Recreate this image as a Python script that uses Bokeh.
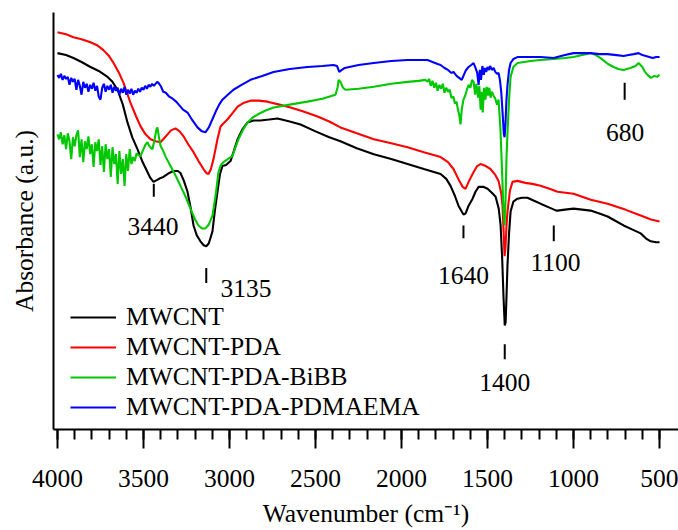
from bokeh.plotting import figure
from bokeh.models import Range1d, FixedTicker, Legend, LegendItem, Label
from bokeh.embed import file_html
from bokeh.resources import INLINE

# ---------------- data ----------------
black_wn = [4000, 3950, 3907, 3860, 3808, 3760, 3709, 3680, 3651, 3620, 3593, 3565, 3535, 3505, 3477, 3460,
            3442, 3420, 3400, 3384, 3350, 3326, 3300, 3285, 3265, 3244, 3225, 3209, 3190, 3169, 3150, 3135,
            3120, 3099, 3085, 3070, 3055, 3041, 3020, 2994, 2975, 2953, 2925, 2895, 2860, 2820, 2770, 2721,
            2650, 2587, 2500, 2420, 2355, 2260, 2161, 2060, 1965, 1870, 1773, 1740, 1715, 1690, 1669, 1650,
            1640, 1628, 1610, 1587, 1570, 1552, 1525, 1500, 1475, 1453, 1435, 1424, 1415, 1407, 1400, 1395,
            1390, 1384, 1375, 1366, 1350, 1326, 1300, 1268, 1230, 1192, 1140, 1100, 1093, 1050, 1000, 950,
            901, 850, 802, 750, 709, 660, 610, 580, 552, 520, 500]
black_abs = [380, 378, 375, 371, 366, 362, 356, 351, 343, 328, 310, 295, 283, 270, 260, 254,
             250, 252, 254, 255, 259, 261, 261, 259, 251, 240, 223, 206, 196, 190, 186, 185,
             188, 200, 221, 240, 258, 266, 267, 271, 281, 293, 303, 310, 312, 312, 313, 314,
             311, 308, 301, 295, 291, 284, 278, 273, 268, 263, 258, 253, 246, 236, 226, 220,
             217, 218, 226, 233, 240, 245, 245, 243, 239, 235, 223, 206, 173, 133, 105, 108,
             133, 166, 198, 220, 230, 233, 234, 234, 231, 228, 224, 221, 221, 222, 223, 222,
             221, 218, 215, 210, 206, 202, 198, 193, 190, 189, 189]

red_wn = [4000, 3950, 3907, 3860, 3808, 3770, 3733, 3700, 3674, 3645, 3616, 3596, 3576, 3545, 3517, 3488,
          3459, 3430, 3401, 3380, 3360, 3340, 3314, 3290, 3267, 3240, 3209, 3180, 3151, 3135, 3122, 3108,
          3093, 3070, 3052, 3030, 3012, 2980, 2953, 2915, 2878, 2830, 2779, 2710, 2645, 2570, 2488, 2420,
          2355, 2260, 2161, 2060, 1965, 1870, 1773, 1730, 1698, 1670, 1645, 1628, 1610, 1581, 1560, 1541,
          1510, 1483, 1455, 1436, 1420, 1413, 1405, 1401, 1396, 1390, 1384, 1370, 1355, 1326, 1280, 1240,
          1192, 1140, 1093, 1000, 950, 900, 802, 700, 610, 550, 500]
red_abs = [401, 399, 396, 394, 391, 388, 383, 377, 370, 361, 350, 340, 330, 317, 306, 298,
           293, 291, 290, 294, 298, 302, 304, 301, 296, 288, 280, 271, 263, 259, 258, 263,
           273, 293, 306, 310, 313, 320, 326, 330, 332, 332, 331, 328, 325, 321, 316, 311,
           305, 299, 293, 289, 285, 280, 275, 270, 263, 253, 245, 243, 250, 260, 266, 268,
           266, 263, 257, 251, 238, 226, 193, 175, 183, 205, 220, 241, 250, 251, 249, 248,
           246, 243, 240, 238, 235, 232, 228, 222, 216, 212, 210]

green_wn = [4000, 3990, 3980, 3970, 3960, 3950, 3940, 3930, 3920, 3910, 3900, 3890, 3880, 3870, 3860, 3850,
            3840, 3830, 3820, 3810, 3800, 3790, 3780, 3770, 3760, 3750, 3740, 3730, 3720, 3710, 3700, 3690,
            3680, 3670, 3660, 3650, 3640, 3630, 3620, 3610, 3600, 3590, 3580, 3570, 3560, 3550, 3540, 3530,
            3517, 3500, 3490, 3477, 3465, 3448, 3435, 3425, 3419, 3410, 3400, 3390, 3370, 3343, 3315, 3285,
            3255, 3227, 3200, 3180, 3160, 3140, 3120, 3099, 3080, 3064, 3050, 3035, 3010, 2983, 2965, 2948,
            2920, 2895, 2865, 2837, 2790, 2744, 2650, 2547, 2460, 2384, 2372, 2366, 2355, 2340, 2326, 2250,
            2161, 2060, 1965, 1900, 1860, 1849, 1840, 1830, 1820, 1810, 1800, 1790, 1780, 1770, 1760, 1750,
            1740, 1730, 1720, 1710, 1698, 1690, 1680, 1672, 1665, 1657, 1650, 1640, 1630, 1620, 1610, 1600,
            1590, 1581, 1572, 1565, 1555, 1548, 1540, 1535, 1528, 1520, 1512, 1505, 1497, 1490, 1482, 1475,
            1465, 1455, 1445, 1436, 1425, 1415, 1408, 1401, 1395, 1390, 1384, 1375, 1366, 1350, 1326, 1250,
            1192, 1116, 1050, 1000, 950, 901, 870, 843, 800, 767, 740, 709, 690, 670, 640, 622,
            600, 585, 570, 550, 530, 515, 500]
green_abs = [298, 293, 300, 288, 297, 283, 299, 291, 273, 295, 286, 297, 302, 275, 293, 270,
             291, 283, 296, 278, 288, 265, 290, 281, 293, 267, 286, 260, 288, 273, 283, 255,
             285, 268, 278, 248, 281, 258, 273, 246, 278, 261, 283, 268, 275, 271, 279, 277,
             276, 283, 287, 290, 286, 283, 293, 303, 305, 295, 286, 283, 275, 266, 257, 246,
             235, 223, 212, 206, 203, 203, 207, 216, 237, 260, 267, 270, 273, 276, 285, 293,
             303, 310, 315, 318, 322, 325, 328, 331, 334, 338, 345, 353, 351, 345, 343, 344,
             346, 349, 351, 352, 353, 351, 354, 347, 352, 345, 350, 342, 348, 344, 349, 340,
             345, 341, 343, 335, 336, 329, 331, 323, 318, 308, 323, 333, 337, 343, 348, 345,
             353, 351, 338, 349, 335, 347, 323, 341, 320, 345, 333, 346, 337, 345, 335, 341,
             337, 334, 328, 333, 303, 258, 223, 206, 233, 273, 300, 333, 356, 366, 370, 372,
             373, 374, 375, 376, 378, 380, 378, 375, 369, 366, 364, 363, 364, 365, 367, 370,
             366, 361, 358, 355, 357, 356, 358]

blue_wn = [4000, 3990, 3980, 3970, 3960, 3950, 3940, 3930, 3920, 3910, 3900, 3890, 3880, 3870, 3860, 3850,
           3840, 3830, 3820, 3810, 3800, 3790, 3780, 3770, 3760, 3750, 3740, 3730, 3720, 3710, 3700, 3690,
           3680, 3670, 3660, 3650, 3640, 3630, 3620, 3610, 3600, 3590, 3580, 3570, 3560, 3550, 3540, 3530,
           3520, 3510, 3500, 3490, 3480, 3470, 3460, 3450, 3440, 3430, 3420, 3413, 3400, 3385, 3370, 3350,
           3330, 3310, 3290, 3270, 3244, 3215, 3186, 3160, 3140, 3120, 3100, 3080, 3060, 3041, 3010, 2977,
           2930, 2878, 2810, 2744, 2650, 2547, 2460, 2395, 2375, 2362, 2355, 2330, 2250, 2161, 2060, 1965,
           1900, 1849, 1820, 1790, 1773, 1750, 1730, 1710, 1698, 1680, 1665, 1650, 1640, 1625, 1610, 1595,
           1581, 1570, 1560, 1552, 1545, 1538, 1530, 1522, 1515, 1508, 1500, 1492, 1485, 1475, 1465, 1455,
           1445, 1436, 1428, 1420, 1412, 1405, 1401, 1396, 1390, 1384, 1375, 1366, 1350, 1326, 1250, 1192,
           1116, 1050, 1000, 901, 850, 802, 750, 709, 680, 650, 622, 600, 580, 560, 540, 520,
           500]
blue_abs = [358, 355, 359, 353, 357, 354, 356, 348, 355, 351, 354, 343, 353, 347, 338, 351,
            345, 349, 341, 348, 344, 350, 342, 347, 336, 333, 345, 349, 341, 347, 343, 348,
            340, 346, 342, 345, 338, 344, 340, 346, 338, 343, 339, 344, 338, 342, 340, 344,
            341, 345, 343, 347, 344, 348, 346, 349, 347, 349, 351, 350, 347, 341, 340, 336,
            334, 331, 327, 323, 320, 312, 305, 301, 300, 305, 313, 321, 328, 333, 338, 343,
            348, 353, 357, 361, 364, 366, 367, 368, 367, 361, 362, 365, 368, 370, 372, 373,
            373, 373, 371, 369, 368, 365, 363, 360, 361, 357, 355, 353, 357, 363, 366, 368,
            370, 365, 360, 348, 363, 353, 367, 358, 365, 361, 366, 363, 367, 363, 365, 361,
            359, 360, 353, 340, 318, 298, 295, 308, 333, 348, 363, 370, 374, 376, 376, 376,
            375, 378, 380, 380, 379, 379, 378, 377, 378, 379, 380, 378, 377, 376, 375, 376,
            376]

series_names = ["MWCNT", "MWCNT-PDA", "MWCNT-PDA-BiBB", "MWCNT-PDA-PDMAEMA"]
series_colors = ["#000000", "#ff0000", "#00c800", "#0000ff"]

x_ticks = [4000, 3500, 3000, 2500, 2000, 1500, 1000, 500]
x_minor = list(range(4000, 499, -100))

# peak annotations: label, wavenumber of marker, marker bottom/top, label x, label y
peak_labels = ["3440", "3135", "1640", "1400", "1100", "680"]
peak_wn = [3440, 3135, 1640, 1400, 1115, 703]
peak_y0 = [235, 148, 193, 71, 190, 333]
peak_y1 = [248, 163, 206, 86, 206, 350]
label_wn = [3445, 3052, 1640, 1400, 1105, 700]
label_y = [205, 142, 155, 47, 169, 300]
label_align = ["center", "left", "center", "center", "center", "center"]

FONT = "Liberation Serif"
FS = "25.5px"

p = figure(width=678, height=530, output_backend="svg", toolbar_location=None,
           x_range=Range1d(4023, 390), y_range=Range1d(0, 421),
           min_border_left=53, min_border_right=0, min_border_top=12, min_border_bottom=97)
p.outline_line_color = None
p.grid.visible = False
p.background_fill_color = "white"

renderers = []
for wn, ab, c in zip([black_wn, red_wn, green_wn, blue_wn],
                     [black_abs, red_abs, green_abs, blue_abs], series_colors):
    renderers.append(p.line(wn, ab, line_color=c, line_width=2.1))

# markers
p.segment(x0=peak_wn, y0=peak_y0, x1=peak_wn, y1=peak_y1, line_color="black", line_width=2)
for t, x, y, a in zip(peak_labels, label_wn, label_y, label_align):
    p.add_layout(Label(x=x, y=y, text=t, text_font=FONT, text_font_size=FS,
                       text_align=a, text_baseline="middle", text_color="black"))

# x axis
xa = p.xaxis[0]
xa.ticker = FixedTicker(ticks=x_ticks, minor_ticks=x_minor)
xa.axis_line_width = 2
xa.major_tick_line_width = 2
xa.minor_tick_line_width = 2
xa.major_tick_in = 0
xa.major_tick_out = 19
xa.minor_tick_in = 0
xa.minor_tick_out = 10
xa.major_label_text_font = FONT
xa.major_label_text_font_size = FS
xa.major_label_text_color = "black"
xa.major_label_standoff = 21
xa.axis_label = "Wavenumber (cm\u207b\u00b9)"
xa.axis_label_text_font = FONT
xa.axis_label_text_font_size = FS
xa.axis_label_text_font_style = "normal"
xa.axis_label_text_color = "black"
xa.axis_label_standoff = 9

# y axis (no ticks)
ya = p.yaxis[0]
ya.ticker = FixedTicker(ticks=[])
ya.axis_line_width = 2
ya.major_tick_out = 0
ya.major_tick_in = 0
ya.minor_tick_out = 0
ya.minor_tick_in = 0
ya.major_label_text_font_size = "0px"
ya.major_label_standoff = 0
ya.axis_label = "Absorbance (a.u.)"
ya.axis_label_text_font = FONT
ya.axis_label_text_font_size = FS
ya.axis_label_text_font_style = "normal"
ya.axis_label_text_color = "black"
ya.axis_label_standoff = 15

legend = Legend(items=[LegendItem(label=n, renderers=[r]) for n, r in zip(series_names, renderers)],
                location=(17, 7), padding=0, margin=0, spacing=-2,
                glyph_width=46, glyph_height=28, label_height=28, label_standoff=10,
                label_text_font=FONT, label_text_font_size=FS, label_text_color="black",
                background_fill_alpha=0, border_line_alpha=0)
p.add_layout(legend)

open("out.html", "w").write(file_html(p, INLINE))
